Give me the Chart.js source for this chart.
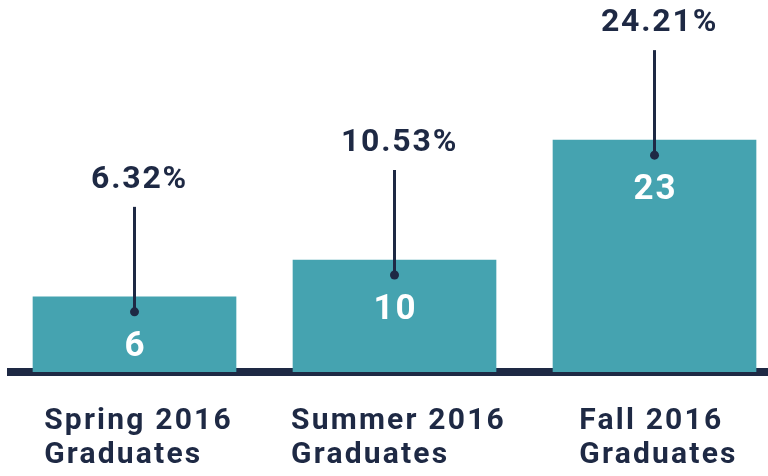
<!DOCTYPE html>
<html>
<head>
<meta charset="utf-8">
<script src="https://cdn.jsdelivr.net/npm/chart.js@4.4.0/dist/chart.umd.min.js"></script>
<style>
  html, body { margin: 0; padding: 0; background: #fff; }
  #wrap { width: 768px; height: 476px; }
</style>
</head>
<body>
<div id="wrap"><canvas id="gradChart"></canvas></div>
<script>
// data
const categories = [['Spring 2016', 'Graduates'], ['Summer 2016', 'Graduates'], ['Fall 2016', 'Graduates']];
const graduates = [6, 10, 23];
const percents = ['6.32%', '10.53%', '24.21%'];

const TEAL = '#45a3b0';
const NAVY = '#1e2944';

// the original graphic isn't drawn from zero, bars start a bit below it
const Y_MIN = -2.15;
const Y_MAX = 38.2;

// stems, dots, numbers and the category names under the baseline
const labelPlugin = {
  id: 'gradLabels',
  afterDatasetsDraw(chart) {
    const ctx = chart.ctx;
    const bars = chart.getDatasetMeta(0).data;
    const bottom = chart.chartArea.bottom;
    ctx.save();
    bars.forEach((bar, i) => {
      const dotY = bar.y + 15;

      ctx.strokeStyle = NAVY;
      ctx.lineWidth = 3;
      ctx.beginPath();
      ctx.moveTo(bar.x, dotY);
      ctx.lineTo(bar.x, dotY - 105);
      ctx.stroke();
      ctx.fillStyle = NAVY;
      ctx.beginPath();
      ctx.arc(bar.x, dotY, 4.5, 0, Math.PI * 2);
      ctx.fill();

      ctx.textAlign = 'center';
      ctx.textBaseline = 'alphabetic';
      ctx.letterSpacing = '1.8px';
      ctx.font = 'bold 32px Roboto';
      ctx.fillText(percents[i], bar.x + 5, dotY - 124);

      ctx.fillStyle = '#ffffff';
      ctx.letterSpacing = '2px';
      ctx.font = 'bold 35px Roboto';
      ctx.fillText(String(graduates[i]), bar.x + 1, dotY + 44);

      ctx.fillStyle = NAVY;
      ctx.letterSpacing = '2.2px';
      ctx.font = 'bold 30px Roboto';
      ctx.textAlign = 'left';
      const lines = categories[i];
      const w = Math.max(...lines.map(l => ctx.measureText(l).width));
      lines.forEach((l, j) => ctx.fillText(l, bar.x - w / 2 + 4, bottom + 57 + j * 34));
    });
    ctx.restore();
  }
};

new Chart(document.getElementById('gradChart'), {
  type: 'bar',
  data: {
    datasets: [{
      data: graduates.map((v, i) => ({ x: i, y: v })),
      backgroundColor: TEAL,
      barThickness: 203,
      base: Y_MIN
    }]
  },
  options: {
    responsive: true,
    maintainAspectRatio: false,
    animation: false,
    layout: { padding: { left: 11, right: 0, top: 0, bottom: 104 } },
    plugins: {
      legend: { display: false },
      tooltip: { enabled: false }
    },
    scales: {
      x: {
        type: 'linear',
        offset: false,
        min: -0.475,
        max: 2.4365,
        z: 1,
        grid: { display: false, drawTicks: false },
        ticks: { display: false },
        border: { display: true, color: NAVY, width: 8 }
      },
      y: { display: false, min: Y_MIN, max: Y_MAX }
    }
  },
  plugins: [labelPlugin]
});
</script>
</body>
</html>
